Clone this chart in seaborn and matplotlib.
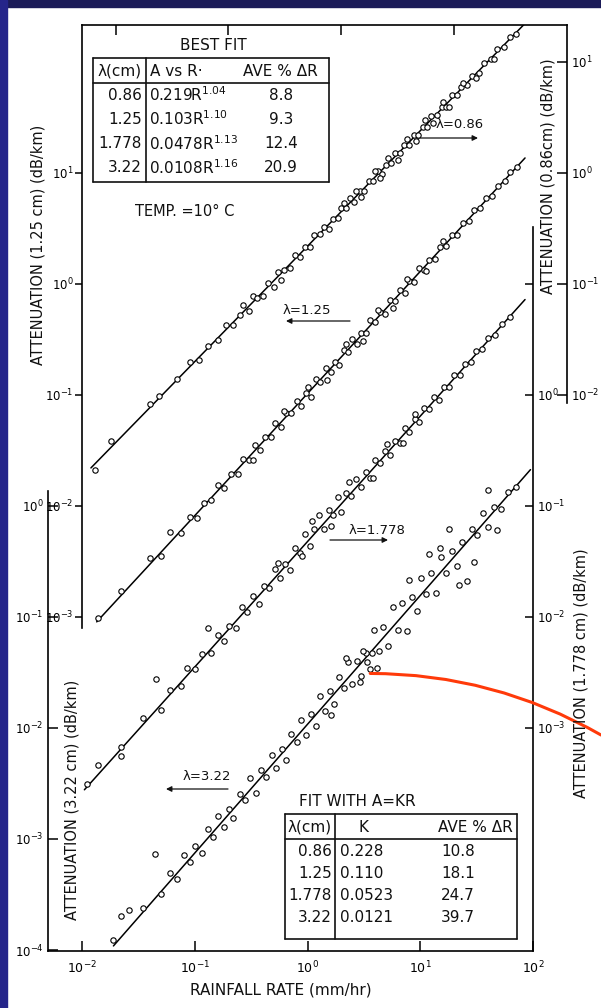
import numpy as np
import pandas as pd
import matplotlib
matplotlib.use("Agg")
import matplotlib.pyplot as plt
import seaborn as sns
from matplotlib.lines import Line2D
from matplotlib.patches import Rectangle
from matplotlib.ticker import NullLocator

# ---------------------------------------------------------------- data
wavelengths = ["0.86", "1.25", "1.778", "3.22"]

rain_086 = [0.013, 0.018, 0.04, 0.048, 0.07, 0.09, 0.11, 0.13, 0.16, 0.19,
            0.22, 0.25, 0.30, 0.33, 0.36, 0.40, 0.45, 0.50, 0.55, 0.62,
            0.70, 0.78, 0.85, 0.95, 1.05, 1.15, 1.3, 1.4, 1.55, 1.7,
            1.85, 2.0, 2.2, 2.4, 2.6, 2.9, 3.2, 3.5, 3.8, 4.2,
            4.6, 5.0, 5.5, 6.0, 6.6, 7.2, 8.0, 8.8, 9.6, 10.5,
            11.5, 12.5, 14, 15.5, 17, 19, 21, 23, 26, 29,
            33, 37, 42, 48, 55, 62, 70,
            2.1, 2.7, 3.0, 4.0, 4.4, 5.2, 6.3, 7.6, 9.2, 11, 13, 16, 18, 24, 31, 45, 0.58, 0.27]
atten_086 = [0.00213, 0.00385, 0.00824, 0.00973, 0.0138, 0.0200, 0.0206, 0.0275, 0.0310, 0.0427,
             0.0423, 0.0530, 0.0570, 0.0776, 0.0755, 0.0787, 0.102, 0.0948, 0.129, 0.133,
             0.138, 0.181, 0.176, 0.217, 0.215, 0.277, 0.281, 0.325, 0.315, 0.388,
             0.396, 0.482, 0.485, 0.596, 0.552, 0.693, 0.684, 0.843, 0.838, 1.04,
             0.977, 1.19, 1.23, 1.51, 1.52, 1.78, 1.77, 2.20, 2.19, 2.58,
             2.59, 3.24, 3.33, 3.96, 3.97, 5.01, 5.07, 5.97, 6.19, 7.43,
             7.94, 9.79, 10.7, 13.1, 13.5, 16.7, 17.7,
             0.531, 0.689, 0.611, 1.04, 0.910, 1.36, 1.32, 2.02, 1.96, 2.97, 2.81, 4.39, 3.94,
             6.53, 7.10, 10.7, 0.108, 0.0643]

rain_125 = [0.014, 0.022, 0.04, 0.05, 0.06, 0.075, 0.09, 0.105, 0.12, 0.14,
            0.16, 0.18, 0.21, 0.24, 0.27, 0.30, 0.34, 0.38, 0.42, 0.47,
            0.52, 0.58, 0.65, 0.72, 0.80, 0.88, 0.97, 1.07, 1.2, 1.3,
            1.45, 1.6, 1.75, 1.9, 2.1, 2.3, 2.5, 2.75, 3.0, 3.3,
            3.6, 4.0, 4.4, 4.9, 5.4, 6.0, 6.6, 7.3, 8.0, 8.8,
            9.7, 10.7, 12, 13.5, 15, 17, 19, 21, 24, 27,
            30, 34, 38, 43, 49, 56, 63, 72,
            0.62, 1.0, 1.5, 2.2, 3.1, 4.2, 5.7, 7.7, 11.3, 16, 0.33]
atten_125 = [0.000986, 0.00173, 0.00343, 0.00356, 0.00587, 0.00569, 0.00798, 0.00787, 0.0107, 0.0113,
             0.0154, 0.0146, 0.0194, 0.0195, 0.0267, 0.0262, 0.0352, 0.0317, 0.0415, 0.0419,
             0.0564, 0.0515, 0.0687, 0.0685, 0.0883, 0.0796, 0.104, 0.0966, 0.138, 0.131,
             0.174, 0.161, 0.200, 0.186, 0.255, 0.246, 0.317, 0.286, 0.361, 0.358,
             0.473, 0.452, 0.562, 0.540, 0.721, 0.706, 0.881, 0.836, 1.06, 1.05,
             1.38, 1.33, 1.66, 1.68, 2.17, 2.22, 2.75, 2.74, 3.56, 3.69,
             4.66, 4.86, 5.90, 6.15, 7.62, 8.43, 10.3, 11.4,
             0.0714, 0.118, 0.137, 0.288, 0.304, 0.586, 0.610, 1.12, 1.32, 2.44, 0.0259]

rain_178 = [0.011, 0.014, 0.022, 0.035, 0.045, 0.05, 0.06, 0.075, 0.085, 0.10,
            0.115, 0.13, 0.14, 0.16, 0.18, 0.20, 0.23, 0.26, 0.29, 0.33,
            0.37, 0.41, 0.46, 0.51, 0.57, 0.63, 0.70, 0.78, 0.86, 0.95,
            1.05, 1.15, 1.27, 1.4, 1.55, 1.7, 1.85, 2.0, 2.2, 2.45,
            2.7, 3.0, 3.3, 3.6, 4.0, 4.4, 4.9, 5.4, 6.0, 6.6,
            7.3, 8.0, 8.9, 9.8, 10.8, 12, 13.3, 14.7, 16.3, 18,
            20, 22.5, 25, 28, 31, 35, 40, 46, 53, 62,
            1.1, 1.6, 2.35, 3.8, 5.1, 7.0, 0.55, 0.9, 0.022, 9.0]
atten_178 = [0.000313, 0.000461, 0.000668, 0.00124, 0.00274, 0.00144, 0.00218, 0.00239, 0.00346, 0.00338,
             0.00466, 0.00791, 0.00472, 0.00692, 0.00612, 0.00830, 0.00791, 0.0122, 0.0110, 0.0153,
             0.0132, 0.0191, 0.0181, 0.0269, 0.0225, 0.0303, 0.0265, 0.0414, 0.0375, 0.0555,
             0.0440, 0.0614, 0.0824, 0.0622, 0.0920, 0.0830, 0.120, 0.0889, 0.130, 0.123,
             0.176, 0.147, 0.202, 0.177, 0.262, 0.243, 0.316, 0.286, 0.387, 0.368,
             0.506, 0.467, 0.604, 0.574, 0.769, 0.755, 0.953, 0.908, 1.17, 1.19,
             1.51, 1.50, 1.90, 1.97, 2.48, 2.59, 3.23, 3.45, 4.34, 5.06,
             0.0733, 0.0661, 0.165, 0.179, 0.362, 0.366, 0.0305, 0.0352, 0.000556, 0.671]

rain_322 = [0.019, 0.022, 0.026, 0.035, 0.044, 0.05, 0.06, 0.07, 0.08, 0.09,
            0.10, 0.115, 0.13, 0.145, 0.16, 0.18, 0.20, 0.22, 0.25, 0.28,
            0.31, 0.35, 0.39, 0.43, 0.48, 0.53, 0.59, 0.65, 0.72, 0.80,
            0.88, 0.97, 1.07, 1.18, 1.3, 1.43, 1.57, 1.72, 1.9, 2.1,
            2.3, 2.5, 2.75, 3.0, 3.3, 3.6, 3.9, 4.3, 4.7, 5.2,
            5.7, 6.3, 6.9, 7.6, 8.4, 9.3, 10.2, 11.3, 12.5, 13.8,
            15.3, 17, 19, 21, 23.5, 26, 29, 32, 36, 40,
            45, 52, 60, 70,
            3.4, 3.1, 3.7, 2.9, 4.1, 15, 22, 30, 12, 8.0, 18, 40, 48, 1.6, 2.2]
atten_322 = [0.000122, 0.000204, 0.000231, 0.000237, 0.000740, 0.000319, 0.000495, 0.000440, 0.000724, 0.000617,
             0.000857, 0.000748, 0.00122, 0.00105, 0.00162, 0.00129, 0.00187, 0.00155, 0.00254, 0.00225,
             0.00357, 0.00259, 0.00416, 0.00361, 0.00566, 0.00440, 0.00641, 0.00520, 0.00885, 0.00741,
             0.0117, 0.00867, 0.0134, 0.0104, 0.0193, 0.0142, 0.0214, 0.0165, 0.0286, 0.0228,
             0.0392, 0.0248, 0.0400, 0.0292, 0.0473, 0.0337, 0.0757, 0.0498, 0.0817, 0.0553,
             0.123, 0.0759, 0.134, 0.0750, 0.150, 0.114, 0.225, 0.160, 0.249, 0.164,
             0.345, 0.251, 0.395, 0.286, 0.472, 0.211, 0.615, 0.548, 0.867, 0.647,
             0.977, 0.942, 1.34, 1.49,
             0.0397, 0.0493, 0.0470, 0.0262, 0.0350, 0.414, 0.195, 0.313, 0.367, 0.214,
             0.615, 1.38, 0.607, 0.0132, 0.0427]

# best power-law fit A = a R^b and the single-parameter fit A = K R
best_coef = [0.219, 0.103, 0.0478, 0.0108]
best_exp = [1.04, 1.10, 1.13, 1.16]
best_dev = [8.8, 9.3, 12.4, 20.9]
kr_coef = [0.228, 0.110, 0.0523, 0.0121]
kr_dev = [10.8, 18.1, 24.7, 39.7]
fit_rain_lo = [0.012, 0.0135, 0.0105, 0.019]
fit_rain_hi = [100, 85, 85, 95]

# each attenuation scale is shifted by whole decades against the 1.25 cm scale
decade_shift = [-1, 0, 1, 2]
rain_ticks = [0.01, 0.1, 1, 10, 100]

# ---------------------------------------------------------------- style
sns.set_theme(style="white")
plt.rcParams.update({
    "font.family": ["DejaVu Sans"],
    "mathtext.fontset": "dejavusans",
    "axes.edgecolor": "black",
    "xtick.color": "black",
    "ytick.color": "black",
    "text.color": "#111111",
})
INK = "#111111"

W, H = 601, 1008
fig = plt.figure(figsize=(W / 100, H / 100), dpi=100, facecolor="white")


def fx(x):
    return x / W


def fy(y):
    return 1 - y / H


# slide border
fig.add_artist(Rectangle((0, fy(7)), 1, 7 / H, transform=fig.transFigure,
                         color="#1b1b58", zorder=-5))
fig.add_artist(Rectangle((0, 0), fx(7), 1, transform=fig.transFigure,
                         color="#25258a", zorder=-5))

# frame in pixels: left 48, right 567, top 25, bottom 951
X_LO, X_HI = -2.3016, 2.3016
Y_LO, Y_HI = -6.009, 2.333

ax125 = fig.add_axes([fx(48), fy(951), (567 - 48) / W, (951 - 25) / H])
ax125.set_xscale("log")
ax125.set_yscale("log")
ax125.set_facecolor("none")
ax086 = ax125.twinx()
ax178 = ax125.twinx()
ax322 = ax125.twinx()
axes = [ax086, ax125, ax178, ax322]

rains = [rain_086, rain_125, rain_178, rain_322]
attens = [atten_086, atten_125, atten_178, atten_322]

for a, r, y, c, e, lo, hi in zip(axes, rains, attens, best_coef, best_exp,
                                 fit_rain_lo, fit_rain_hi):
    a.set_yscale("log")
    df = pd.DataFrame({"rain": r, "atten": y})
    sns.scatterplot(data=df, x="rain", y="atten", ax=a, s=15, color="white",
                    edgecolor="black", linewidth=0.8, zorder=3, legend=False)
    grid = np.geomspace(lo, hi, 80)
    sns.lineplot(x=grid, y=c * grid ** e, ax=a, color="black", lw=1.1,
                 zorder=2, estimator=None, sort=False)
    a.set_xlabel("")
    a.set_ylabel("")

ax125.set_xlim(10 ** X_LO, 10 ** X_HI)
for a, sh in zip(axes, decade_shift):
    a.set_ylim(10 ** (Y_LO + sh), 10 ** (Y_HI + sh))
    a.yaxis.set_minor_locator(NullLocator())
    for s in a.spines.values():
        s.set_visible(False)
        s.set_linewidth(1.2)
ax125.xaxis.set_minor_locator(NullLocator())


def dec(v):
    return rf"$10^{{{int(round(np.log10(v)))}}}$"


TICK_FS = 8.5

# bottom: rainfall rate
sp = ax125.spines["bottom"]
sp.set_visible(True)
sp.set_bounds(10 ** X_LO, 100)
ax125.xaxis.set_ticks_position("bottom")
ax125.set_xticks(rain_ticks, labels=[dec(v) for v in rain_ticks])
ax125.tick_params(axis="x", direction="in", length=7, width=1.1, pad=6,
                  labelsize=TICK_FS + 0.5)

# top border of the upper panel with its own (offset) decade ticks
sp = ax125.spines["top"]
sp.set_visible(True)
sp.set_bounds(0.01, 10 ** X_HI)
TOP_SHIFT = 10 ** (-33.5 / 112.75)
sec = ax125.secondary_xaxis("top", functions=(lambda x: x * TOP_SHIFT,
                                              lambda x: x / TOP_SHIFT))
sec.set_xticks([0.01, 0.1, 1, 10])
sec.xaxis.set_minor_locator(NullLocator())
sec.tick_params(direction="in", length=7, width=1.1, labeltop=False,
                labelbottom=False)
for s in sec.spines.values():
    s.set_visible(False)

# 1.25 cm scale: upper left
sp = ax125.spines["left"]
sp.set_visible(True)
sp.set_position(("data", 0.01))
sp.set_bounds(10 ** -3.10, 10 ** Y_HI)
t125 = [1e-3, 1e-2, 1e-1, 1, 10]
ax125.yaxis.set_ticks_position("left")
ax125.set_yticks(t125, labels=[dec(v) for v in t125])
ax125.tick_params(axis="y", direction="out", length=5, width=1.1, pad=1,
                  labelsize=TICK_FS)

# 3.22 cm scale: lower left
ax322.yaxis.tick_left()
sp = ax322.spines["left"]
sp.set_visible(True)
sp.set_bounds(10 ** (Y_LO + 2), 10 ** 0.135)
t322 = [1e-4, 1e-3, 1e-2, 1e-1, 1]
ax322.set_yticks(t322, labels=[dec(v) for v in t322])
ax322.tick_params(axis="y", direction="in", length=7, width=1.1, pad=3,
                  labelsize=TICK_FS, left=True, right=False,
                  labelleft=True, labelright=False)

# 1.778 cm scale: inner right
sp = ax178.spines["right"]
sp.set_visible(True)
sp.set_position(("data", 100))
sp.set_bounds(10 ** (Y_LO + 1), 10 ** 1.514)
t178 = [1e-3, 1e-2, 1e-1, 1, 10]
ax178.set_yticks(t178, labels=[dec(v) if v < 5 else "" for v in t178])
ax178.tick_params(axis="y", direction="in", length=6, width=1.1, pad=3,
                  labelsize=TICK_FS)

# 0.86 cm scale: outer right
sp = ax086.spines["right"]
sp.set_visible(True)
sp.set_bounds(10 ** -2.072, 10 ** (Y_HI - 1))
t086 = [1e-2, 1e-1, 1, 10]
ax086.set_yticks(t086, labels=[dec(v) for v in t086])
ax086.tick_params(axis="y", direction="in", length=7, width=1.1, pad=3,
                  labelsize=TICK_FS)


def txt(x, y, s, **kw):
    kw.setdefault("ha", "center")
    kw.setdefault("va", "center")
    kw.setdefault("fontsize", 11)
    kw.setdefault("color", INK)
    fig.text(fx(x), fy(y), s, **kw)


def seg(x0, y0, x1, y1, lw=1.2):
    fig.add_artist(Line2D([fx(x0), fx(x1)], [fy(y0), fy(y1)],
                          transform=fig.transFigure, color=INK, lw=lw))


def arrow(x0, x1, y):
    ax125.annotate("", xy=(x1, H - y), xytext=(x0, H - y),
                   xycoords="figure pixels", textcoords="figure pixels",
                   arrowprops=dict(arrowstyle="-|>", color=INK, lw=0.9,
                                   mutation_scale=8, shrinkA=0, shrinkB=0))


# axis titles
txt(38, 245, "ATTENUATION (1.25 cm) (dB/km)", rotation=90, fontsize=10.5)
txt(72, 800, "ATTENUATION (3.22 cm) (dB/km)", rotation=90, fontsize=10.5)
txt(548, 176, "ATTENUATION (0.86cm) (dB/km)", rotation=90, fontsize=10.5)
txt(581, 673, "ATTENUATION (1.778 cm) (dB/km)", rotation=90, fontsize=10.5)
txt(281, 990, "RAINFALL RATE (mm/hr)")

# best-fit table
txt(213, 46, "BEST FIT")
for x0, y0, x1, y1 in [(93, 58, 329, 58), (93, 182, 329, 182), (93, 58, 93, 182),
                       (329, 58, 329, 182), (146, 58, 146, 182), (93, 83, 329, 83)]:
    seg(x0, y0, x1, y1)
txt(120, 71, "λ(cm)")
txt(150, 71, "A vs R·", ha="left")
txt(280, 71, "AVE % ΔR")
for yy, w, c, e, d in zip([95, 119, 144, 168], wavelengths, best_coef, best_exp, best_dev):
    txt(142, yy, w, ha="right")
    txt(149, yy, f"{c:#.3g}R$^{{{e:.2f}}}$", ha="left")
    txt(281, yy, f"{d:.1f}")

txt(135, 211, "TEMP. =10° C", ha="left", fontsize=10.5)

# A = K R table
txt(357, 802, "FIT WITH A=KR")
for x0, y0, x1, y1 in [(285, 814, 517, 814), (285, 939, 517, 939), (285, 814, 285, 939),
                       (517, 814, 517, 939), (335, 814, 335, 939), (285, 839, 517, 839)]:
    seg(x0, y0, x1, y1)
txt(310, 827, "λ(cm)")
txt(364, 827, "K")
txt(475, 827, "AVE % ΔR")
for yy, w, k, d in zip([852, 874, 896, 917], wavelengths, kr_coef, kr_dev):
    txt(332, yy, w, ha="right")
    txt(340, yy, f"{k:#.3g}", ha="left")
    txt(458, yy, f"{d:.1f}")

# wavelength pointers
LFS = 9.5
txt(460, 124, "λ=0.86", fontsize=LFS)
arrow(417, 478, 138)
txt(307, 311, "λ=1.25", fontsize=LFS)
arrow(350, 286, 321)
txt(377, 530, "λ=1.778", fontsize=LFS)
arrow(330, 388, 540)
txt(207, 777, "λ=3.22", fontsize=LFS)
arrow(228, 166, 789)

# highlight curve from the 3.22 cm cluster out to the page edge
ax322.annotate("", xy=(3.6, 0.031), xycoords="data",
               xytext=(W, H - 735), textcoords="figure pixels",
               arrowprops=dict(arrowstyle="-", color="#ff3a0a", lw=2.2,
                               connectionstyle="arc3,rad=0.133",
                               shrinkA=0, shrinkB=0),
               annotation_clip=False)

fig.savefig("out.png", dpi=100, facecolor="white")
